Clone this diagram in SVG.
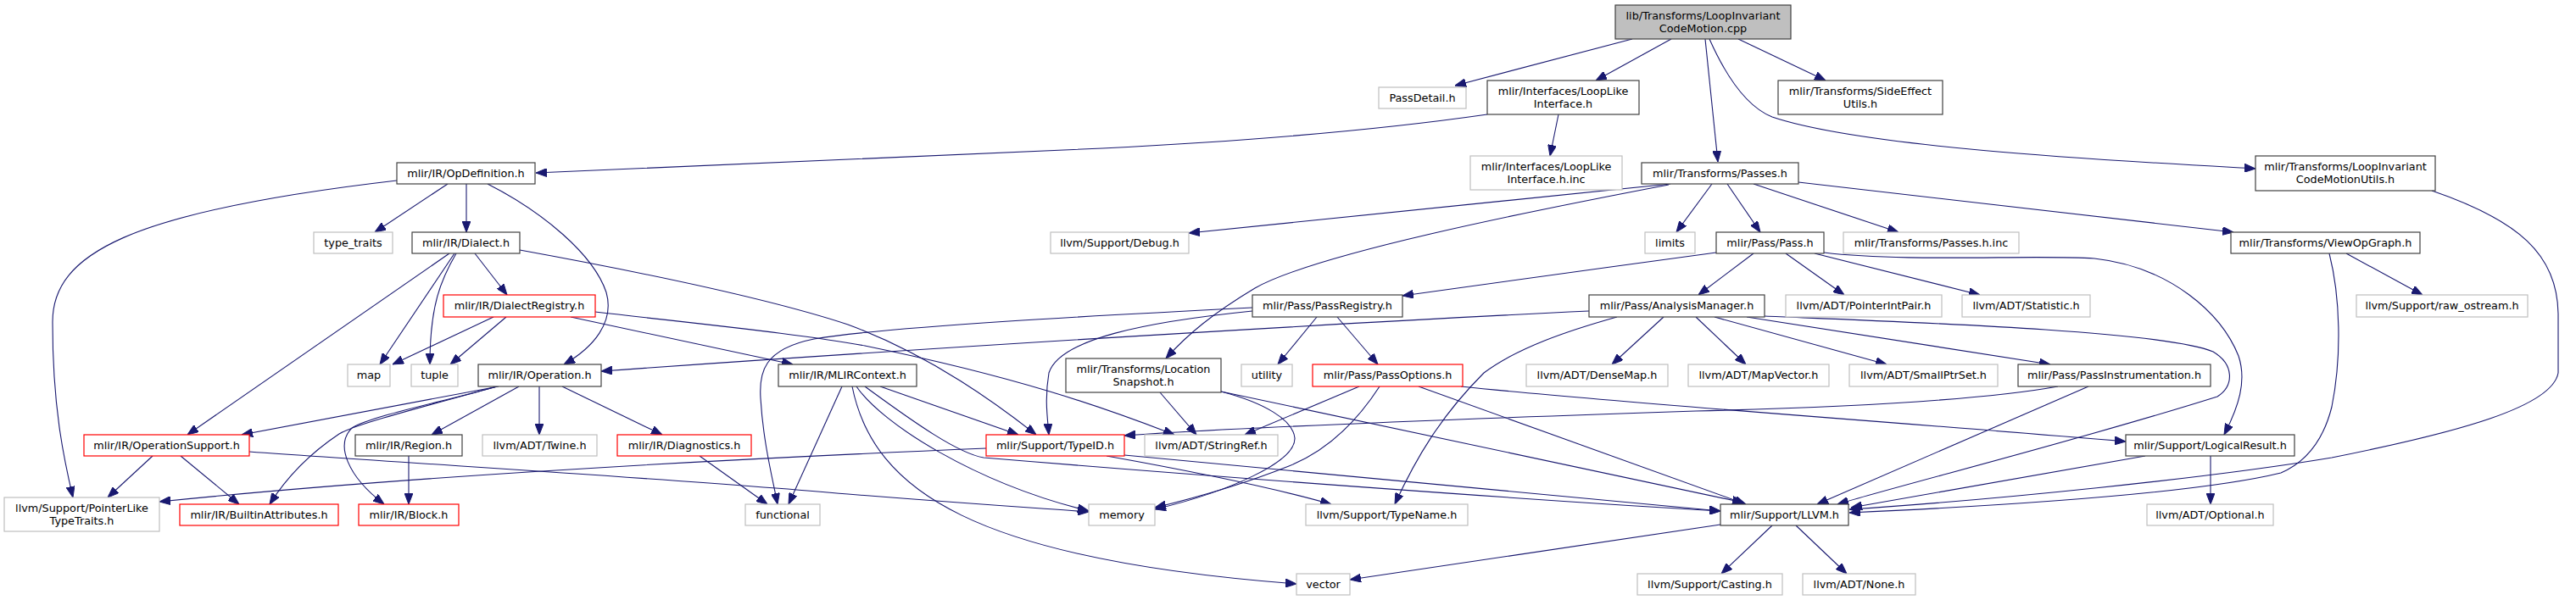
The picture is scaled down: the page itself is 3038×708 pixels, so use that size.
<svg xmlns="http://www.w3.org/2000/svg" width="3038" height="708" viewBox="0 0 3038 708">
<style>
rect{fill:#fff;stroke-width:1.2}
.n rect{stroke:#404040}
.g rect{stroke:#bfbfbf}
.r rect{stroke:#ff0000}
.root rect{fill:#bfbfbf;stroke:#404040}
text{font-family:"DejaVu Sans","Liberation Sans",sans-serif;font-size:12.8px;fill:#000;text-anchor:middle}
.e path{fill:none;stroke:#191970;stroke-width:1.1;marker-end:url(#a)}
</style>
<defs>
<marker id="a" viewBox="0 0 13 10" refX="13" refY="5" markerWidth="13" markerHeight="10" markerUnits="userSpaceOnUse" orient="auto">
<path d="M0,0 L13,5 L0,10 z" fill="#191970" stroke="#191970" stroke-width="1"/>
</marker>
</defs>
<rect x="0" y="0" width="3038" height="708" fill="#fff" stroke="none"/>
<g class="e" id="edges">
<path d="M1925,46 L1716,101"/>
<path d="M1971,46 L1882,95"/>
<path d="M2011,46 L2026,191"/>
<path d="M2050,46 L2153,95"/>
<path d="M2016,46 C2040,100 2065,128 2090,138 C2200,175 2500,190 2660,199"/>
<path d="M1754,135 C1650,150 1500,165 1300,175 C1000,190 700,202 632,204"/>
<path d="M1838,135 L1828,184"/>
<path d="M528,217 L442,274"/>
<path d="M550,217 L550,274"/>
<path d="M575,217 C640,250 700,300 715,345 C725,380 700,410 665,430"/>
<path d="M468,213 C150,250 62,300 62,380 C62,480 75,540 86,587"/>
<path d="M560,299 L598,348"/>
<path d="M530,299 L221,513"/>
<path d="M536,299 L448,430"/>
<path d="M538,299 C520,330 507,360 507,430"/>
<path d="M613,295 C750,320 900,350 1000,383 C1100,420 1180,480 1222,513"/>
<path d="M582,374 L463,430"/>
<path d="M597,374 L531,430"/>
<path d="M673,374 L935,430"/>
<path d="M702,368 C850,385 950,395 1020,408 C1200,445 1300,480 1385,513"/>
<path d="M588,456 L285,513"/>
<path d="M586,456 C500,480 420,500 400,512 C370,532 340,560 318,595"/>
<path d="M586,456 C520,475 440,490 415,505 C395,525 410,562 453,595"/>
<path d="M612,456 L509,513"/>
<path d="M636,456 L636,513"/>
<path d="M663,456 L781,513"/>
<path d="M180,538 L127,587"/>
<path d="M213,538 L282,595"/>
<path d="M294,533 C500,548 800,565 1000,583 C1150,595 1230,600 1284,604"/>
<path d="M482,538 L482,595"/>
<path d="M825,538 L905,595"/>
<path d="M993,456 L930,595"/>
<path d="M1038,456 L1201,513"/>
<path d="M1020,456 C1080,500 1130,535 1160,540 C1400,560 1800,590 2029,603"/>
<path d="M1010,456 C1040,500 1150,570 1284,603"/>
<path d="M1005,456 C1030,580 1150,660 1529,689"/>
<path d="M1553,374 L1507,430"/>
<path d="M1577,374 L1625,430"/>
<path d="M1477,367 C1350,380 1250,400 1237,440 C1232,470 1235,490 1237,513"/>
<path d="M1477,363 C1300,372 1050,385 960,400 C900,412 895,440 897,470 C900,520 910,560 917,595"/>
<path d="M1970,217 L1402,275"/>
<path d="M1968,218 C1800,250 1550,300 1480,340 C1430,370 1400,395 1375,423"/>
<path d="M2019,217 L1977,274"/>
<path d="M2037,217 L2076,274"/>
<path d="M2068,217 L2239,274"/>
<path d="M2121,215 L2634,274"/>
<path d="M2024,298 C1900,315 1750,335 1654,349"/>
<path d="M2068,299 L2003,348"/>
<path d="M2106,299 L2175,348"/>
<path d="M2140,299 L2335,348"/>
<path d="M2151,298 C2250,310 2400,300 2470,305 C2560,315 2620,370 2640,420 C2650,450 2640,480 2623,513"/>
<path d="M1874,367 C1600,380 1100,410 709,438"/>
<path d="M1907,374 C1850,390 1790,410 1750,440 C1700,490 1670,540 1645,595"/>
<path d="M1962,374 L1901,430"/>
<path d="M2000,374 L2059,430"/>
<path d="M2022,374 L2225,430"/>
<path d="M2060,374 L2418,430"/>
<path d="M2081,373 C2250,380 2550,390 2610,415 C2635,430 2635,455 2615,468 C2450,520 2250,570 2167,595"/>
<path d="M2463,456 L2143,595"/>
<path d="M2427,456 C2350,470 2200,480 2000,485 C1700,495 1450,505 1326,514"/>
<path d="M1673,456 L2059,595"/>
<path d="M1440,462 L2056,593"/>
<path d="M1723,456 C1900,475 2200,495 2507,521"/>
<path d="M1603,456 L1468,513"/>
<path d="M1627,456 C1605,490 1570,530 1520,550 C1470,570 1420,585 1362,599"/>
<path d="M1440,462 C1490,475 1525,495 1527,517 C1528,545 1450,580 1362,601"/>
<path d="M1368,463 L1411,513"/>
<path d="M1163,529 C900,540 500,560 188,592"/>
<path d="M1326,537 L2029,603"/>
<path d="M1305,538 C1400,555 1500,575 1570,595"/>
<path d="M2029,619 L1592,684"/>
<path d="M2090,620 L2030,677"/>
<path d="M2118,620 L2178,677"/>
<path d="M2530,538 L2183,599"/>
<path d="M2607,538 L2607,595"/>
<path d="M2767,299 L2857,348"/>
<path d="M2747,299 C2760,350 2762,420 2750,480 C2740,520 2720,545 2690,558 C2600,580 2400,595 2181,605"/>
<path d="M2868,225 C2970,260 3016,300 3017,370 L3017,440 C3010,480 2900,510 2750,540 C2600,565 2350,590 2181,601"/>
</g>
<g id="node-root" class="root"><rect x="1905" y="6" width="207" height="40"/><text x="2008.5" y="23">lib/Transforms/LoopInvariant</text><text x="2008.5" y="38">CodeMotion.cpp</text></g>
<g id="node-passdetail" class="g"><rect x="1626" y="103" width="103" height="25"/><text x="1677.5" y="120">PassDetail.h</text></g>
<g id="node-looplike" class="n"><rect x="1754" y="95" width="179" height="40"/><text x="1843.5" y="112">mlir/Interfaces/LoopLike</text><text x="1843.5" y="127">Interface.h</text></g>
<g id="node-looplikeinc" class="g"><rect x="1734" y="184" width="179" height="40"/><text x="1823.5" y="201">mlir/Interfaces/LoopLike</text><text x="1823.5" y="216">Interface.h.inc</text></g>
<g id="node-sideeffect" class="n"><rect x="2097" y="95" width="194" height="40"/><text x="2194" y="112">mlir/Transforms/SideEffect</text><text x="2194" y="127">Utils.h</text></g>
<g id="node-licmutils" class="n"><rect x="2660" y="184" width="212" height="41"/><text x="2766" y="201">mlir/Transforms/LoopInvariant</text><text x="2766" y="216">CodeMotionUtils.h</text></g>
<g id="node-passes" class="n"><rect x="1936" y="192" width="185" height="25"/><text x="2028.5" y="209">mlir/Transforms/Passes.h</text></g>
<g id="node-opdef" class="n"><rect x="468" y="192" width="163" height="25"/><text x="549.5" y="209">mlir/IR/OpDefinition.h</text></g>
<g id="node-typetraits" class="g"><rect x="370" y="274" width="93" height="25"/><text x="416.5" y="291">type_traits</text></g>
<g id="node-dialect" class="n"><rect x="486" y="274" width="127" height="25"/><text x="549.5" y="291">mlir/IR/Dialect.h</text></g>
<g id="node-debug" class="g"><rect x="1239" y="274" width="163" height="25"/><text x="1320.5" y="291">llvm/Support/Debug.h</text></g>
<g id="node-limits" class="g"><rect x="1940" y="274" width="59" height="25"/><text x="1969.5" y="291">limits</text></g>
<g id="node-pass" class="n"><rect x="2024" y="274" width="127" height="25"/><text x="2087.5" y="291">mlir/Pass/Pass.h</text></g>
<g id="node-passesinc" class="g"><rect x="2174" y="274" width="207" height="25"/><text x="2277.5" y="291">mlir/Transforms/Passes.h.inc</text></g>
<g id="node-viewop" class="n"><rect x="2631" y="274" width="223" height="25"/><text x="2742.5" y="291">mlir/Transforms/ViewOpGraph.h</text></g>
<g id="node-dialectreg" class="r"><rect x="523" y="348" width="179" height="26"/><text x="612.5" y="365">mlir/IR/DialectRegistry.h</text></g>
<g id="node-passreg" class="n"><rect x="1477" y="348" width="177" height="26"/><text x="1565.5" y="365">mlir/Pass/PassRegistry.h</text></g>
<g id="node-analysis" class="n"><rect x="1874" y="348" width="207" height="26"/><text x="1977.5" y="365">mlir/Pass/AnalysisManager.h</text></g>
<g id="node-pointerint" class="g"><rect x="2106" y="348" width="184" height="26"/><text x="2198" y="365">llvm/ADT/PointerIntPair.h</text></g>
<g id="node-statistic" class="g"><rect x="2314" y="348" width="151" height="26"/><text x="2389.5" y="365">llvm/ADT/Statistic.h</text></g>
<g id="node-rawostream" class="g"><rect x="2779" y="348" width="202" height="26"/><text x="2880" y="365">llvm/Support/raw_ostream.h</text></g>
<g id="node-map" class="g"><rect x="410" y="430" width="50" height="26"/><text x="435" y="447">map</text></g>
<g id="node-tuple" class="g"><rect x="485" y="430" width="55" height="26"/><text x="512.5" y="447">tuple</text></g>
<g id="node-operation" class="n"><rect x="564" y="430" width="145" height="26"/><text x="636.5" y="447">mlir/IR/Operation.h</text></g>
<g id="node-mlircontext" class="n"><rect x="918" y="430" width="163" height="26"/><text x="999.5" y="447">mlir/IR/MLIRContext.h</text></g>
<g id="node-locsnap" class="n"><rect x="1257" y="423" width="183" height="40"/><text x="1348.5" y="440">mlir/Transforms/Location</text><text x="1348.5" y="455">Snapshot.h</text></g>
<g id="node-utility" class="g"><rect x="1464" y="430" width="60" height="26"/><text x="1494" y="447">utility</text></g>
<g id="node-passopts" class="r"><rect x="1548" y="430" width="177" height="26"/><text x="1636.5" y="447">mlir/Pass/PassOptions.h</text></g>
<g id="node-densemap" class="g"><rect x="1800" y="430" width="167" height="26"/><text x="1883.5" y="447">llvm/ADT/DenseMap.h</text></g>
<g id="node-mapvector" class="g"><rect x="1991" y="430" width="166" height="26"/><text x="2074" y="447">llvm/ADT/MapVector.h</text></g>
<g id="node-smallptrset" class="g"><rect x="2181" y="430" width="175" height="26"/><text x="2268.5" y="447">llvm/ADT/SmallPtrSet.h</text></g>
<g id="node-passinstr" class="n"><rect x="2380" y="430" width="227" height="26"/><text x="2493.5" y="447">mlir/Pass/PassInstrumentation.h</text></g>
<g id="node-opsupport" class="r"><rect x="99" y="513" width="195" height="25"/><text x="196.5" y="530">mlir/IR/OperationSupport.h</text></g>
<g id="node-region" class="n"><rect x="419" y="513" width="126" height="25"/><text x="482" y="530">mlir/IR/Region.h</text></g>
<g id="node-twine" class="g"><rect x="569" y="513" width="135" height="25"/><text x="636.5" y="530">llvm/ADT/Twine.h</text></g>
<g id="node-diagnostics" class="r"><rect x="728" y="513" width="158" height="25"/><text x="807" y="530">mlir/IR/Diagnostics.h</text></g>
<g id="node-typeid" class="r"><rect x="1163" y="513" width="163" height="25"/><text x="1244.5" y="530">mlir/Support/TypeID.h</text></g>
<g id="node-stringref" class="g"><rect x="1350" y="513" width="157" height="25"/><text x="1428.5" y="530">llvm/ADT/StringRef.h</text></g>
<g id="node-logical" class="n"><rect x="2507" y="513" width="199" height="25"/><text x="2606.5" y="530">mlir/Support/LogicalResult.h</text></g>
<g id="node-pointerlike" class="g"><rect x="5" y="587" width="183" height="40"/><text x="96.5" y="604">llvm/Support/PointerLike</text><text x="96.5" y="619">TypeTraits.h</text></g>
<g id="node-builtinattr" class="r"><rect x="212" y="595" width="187" height="25"/><text x="305.5" y="612">mlir/IR/BuiltinAttributes.h</text></g>
<g id="node-block" class="r"><rect x="423" y="595" width="118" height="25"/><text x="482" y="612">mlir/IR/Block.h</text></g>
<g id="node-functional" class="g"><rect x="879" y="595" width="88" height="25"/><text x="923" y="612">functional</text></g>
<g id="node-memory" class="g"><rect x="1284" y="595" width="78" height="25"/><text x="1323" y="612">memory</text></g>
<g id="node-typename" class="g"><rect x="1540" y="595" width="191" height="25"/><text x="1635.5" y="612">llvm/Support/TypeName.h</text></g>
<g id="node-llvm" class="n"><rect x="2029" y="595" width="151" height="25"/><text x="2104.5" y="612">mlir/Support/LLVM.h</text></g>
<g id="node-optional" class="g"><rect x="2532" y="595" width="149" height="25"/><text x="2606.5" y="612">llvm/ADT/Optional.h</text></g>
<g id="node-vector" class="g"><rect x="1529" y="677" width="63" height="25"/><text x="1560.5" y="694">vector</text></g>
<g id="node-casting" class="g"><rect x="1931" y="677" width="171" height="25"/><text x="2016.5" y="694">llvm/Support/Casting.h</text></g>
<g id="node-none" class="g"><rect x="2126" y="677" width="133" height="25"/><text x="2192.5" y="694">llvm/ADT/None.h</text></g>
</svg>
